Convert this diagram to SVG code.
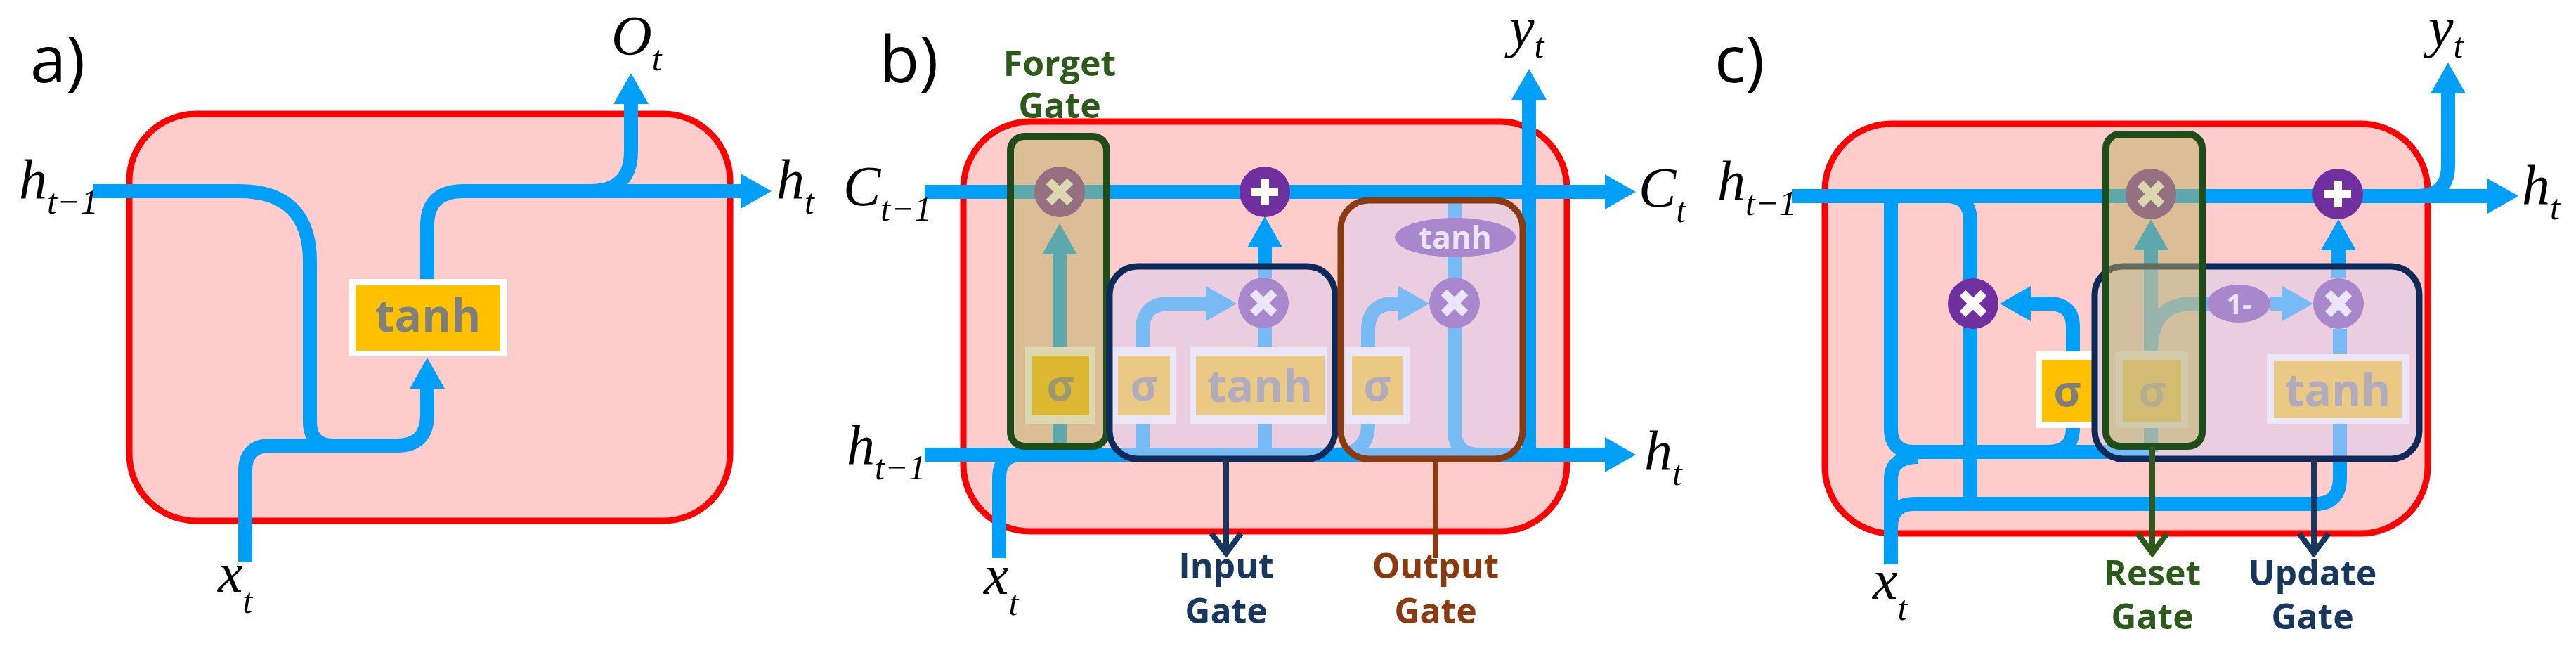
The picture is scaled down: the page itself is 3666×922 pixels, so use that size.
<svg xmlns="http://www.w3.org/2000/svg" width="3666" height="922" viewBox="0 0 3666 922">
<style>
.cell{fill:#ffcccc;stroke:#ff0000;stroke-width:9}
.ln{fill:none;stroke:#00a0f8;stroke-width:20}
.la{fill:none;stroke:#00a0f8;stroke-width:20;marker-end:url(#ah)}
.ob{fill:#ffffff}
.oi{fill:#ffc000}
.fn{font-family:"Open Sans","Liberation Sans",sans-serif;font-weight:bold;fill:#7f7f7f;text-anchor:middle}
.op{fill:#7030a0}
.x{stroke:#ffffff;stroke-width:12;stroke-linecap:butt}
.m{font-family:"Liberation Serif",serif;font-style:italic;font-size:80px;fill:#000}
.s{font-size:50px}
.pl{font-family:"Open Sans","Liberation Sans",sans-serif;font-size:92px;fill:#000}
.gl{font-family:"Open Sans","Liberation Sans",sans-serif;font-weight:bold;font-size:50px;text-anchor:middle}
.gg{fill:#b8b060;fill-opacity:.5;stroke:#1e4d1a;stroke-width:10}
.gp{fill:#d8d0f0;fill-opacity:.55;stroke-width:9}
</style>
<defs>
<marker id="ah" markerUnits="userSpaceOnUse" markerWidth="60" markerHeight="60" refX="9" refY="25" orient="auto"><path d="M0,0 L44,25 L0,50 Z" fill="#00a0f8"/></marker>
<marker id="an" markerUnits="userSpaceOnUse" markerWidth="60" markerHeight="60" refX="30" refY="25" orient="auto"><path d="M4,4 L32,25 L4,46" fill="none" stroke="#17375e" stroke-width="8"/></marker>
<marker id="ag" markerUnits="userSpaceOnUse" markerWidth="60" markerHeight="60" refX="30" refY="25" orient="auto"><path d="M4,4 L32,25 L4,46" fill="none" stroke="#2d5a1b" stroke-width="8"/></marker>
<g id="mul"><circle r="36" class="op"/><path d="M-15,-15 L15,15 M-15,15 L15,-15" class="x"/></g>
<g id="add"><circle r="36" class="op"/><path d="M0,-19 V19 M-19,0 H19" class="x"/></g>
</defs>

<g id="cellA"><rect x="184" y="162" width="855" height="579" rx="95" class="cell"/></g>
<g id="cellB"><rect x="1371" y="173" width="859" height="583" rx="95" class="cell"/></g>
<g id="cellC"><rect x="2597" y="176" width="858" height="583" rx="95" class="cell"/></g>

<g id="connectors">
<path class="la" d="M132 272 H340 Q441 272 441 372 V600 Q441 634 475 634 H565 Q608 634 608 590 V544"/>
<path class="ln" d="M349 800 V670 Q349 634 385 634 H480"/>
<path class="la" d="M608 397 V320 Q608 272 660 272 H1063"/>
<path class="la" d="M840 272 Q898 272 898 215 V139"/>
<path class="la" d="M2176 647 V133"/>
<path class="la" d="M1316 273 H2293"/>
<path class="la" d="M1316 647 H2293"/>
<path class="ln" d="M1422 794 V680 Q1422 647 1455 647 H1500"/>
<path class="ln" d="M1508 647 V603"/>
<path class="la" d="M1508 494 V353"/>
<path class="ln" d="M1626 647 V603"/>
<path class="la" d="M1626 494 V470 Q1626 432 1664 432 H1725"/>
<path class="ln" d="M1800 647 V603 M1800 494 V465"/>
<path class="la" d="M1800 395 V343"/>
<path class="ln" d="M2070 273 V612 Q2070 647 2105 647"/>
<path class="ln" d="M1900 647 Q1947 647 1947 603"/>
<path class="la" d="M1947 494 V470 Q1947 432 1985 432 H1999"/>
<path class="la" d="M2550 279 H3549"/>
<path class="la" d="M3440 279 Q3484 279 3484 235 V124"/>
<path class="ln" d="M2691 279 V610 Q2691 643 2724 643 H3061"/>
<path class="ln" d="M2691 803 V682 Q2691 650 2730 650"/>
<path class="ln" d="M2691 803 V750 Q2691 717 2725 717 H3295 Q3330 717 3330 680 V603"/>
<path class="ln" d="M2770 279 Q2804 279 2804 315 V717"/>
<path class="ln" d="M2915 643 Q2950 643 2950 609"/>
<path class="la" d="M2950 500 V465 Q2950 432 2915 432 H2881"/>
<path class="ln" d="M3061 643 V603"/>
<path class="la" d="M3061 500 V347"/>
<path class="ln" d="M3061 500 Q3061 432 3120 432 H3145"/>
<path class="la" d="M3231 432 H3257"/>
<path class="ln" d="M3330 503 V468"/>
<path class="la" d="M3328 396 V347"/>
</g>

<g id="tanhA"><rect x="496" y="397" width="226" height="110" class="ob"/><rect x="506" y="406" width="206" height="93" class="oi"/><text x="609" y="472" class="fn" font-size="64">tanh</text></g>

<g id="mulF"><use href="#mul" x="1508" y="273"/></g>
<g id="addB"><use href="#add" x="1800" y="273"/></g>
<g id="mulI"><use href="#mul" x="1798" y="431"/></g>
<g id="mulO"><use href="#mul" x="2070" y="431"/></g>
<g id="tanhO"><ellipse cx="2071" cy="338" rx="86" ry="28" class="op"/><text x="2071" y="354" class="fn" font-size="44" style="fill:#fff">tanh</text></g>
<g id="sigF"><rect x="1459" y="494" width="100" height="109" class="ob"/><rect x="1469" y="506" width="81" height="85" class="oi"/><text x="1509" y="570" class="fn" font-size="60">σ</text></g>
<g id="sigI"><rect x="1581" y="494" width="92" height="109" class="ob"/><rect x="1591" y="506" width="74" height="85" class="oi"/><text x="1628" y="570" class="fn" font-size="60">σ</text></g>
<g id="tanhI"><rect x="1693" y="494" width="196" height="109" class="ob"/><rect x="1702" y="506" width="183" height="85" class="oi"/><text x="1793" y="572" class="fn" font-size="64">tanh</text></g>
<g id="sigO"><rect x="1914" y="494" width="92" height="109" class="ob"/><rect x="1924" y="506" width="72" height="85" class="oi"/><text x="1960" y="570" class="fn" font-size="60">σ</text></g>

<g id="mulL"><use href="#mul" x="2808" y="432"/></g>
<g id="mulR"><use href="#mul" x="3061" y="276"/></g>
<g id="addC"><use href="#add" x="3327" y="276"/></g>
<g id="mulU"><use href="#mul" x="3328" y="432"/></g>
<g id="oneMinus"><ellipse cx="3186" cy="432" rx="45" ry="27" class="op"/><text x="3186" y="447" class="fn" font-size="40" style="fill:#fff">1-</text></g>
<g id="sigC1"><rect x="2897" y="500" width="88" height="109" class="ob"/><rect x="2906" y="512" width="71" height="88" class="oi"/><text x="2942" y="578" class="fn" font-size="60">σ</text></g>
<g id="sigC2"><rect x="3012" y="500" width="102" height="109" class="ob"/><rect x="3022" y="512" width="82" height="88" class="oi"/><text x="3063" y="578" class="fn" font-size="60">σ</text></g>
<g id="tanhU"><rect x="3226" y="503" width="202" height="100" class="ob"/><rect x="3236" y="513" width="182" height="82" class="oi"/><text x="3327" y="578" class="fn" font-size="64">tanh</text></g>

<g id="forgetGate"><rect x="1438" y="194" width="137" height="441" rx="20" class="gg"/></g>
<g id="inputGate"><rect x="1579" y="379" width="321" height="274" rx="40" class="gp" stroke="#0d2a5a"/></g>
<g id="outputGate"><rect x="1908" y="285" width="259" height="368" rx="40" class="gp" stroke="#8b3a10"/></g>
<g id="updateGate"><rect x="2981" y="379" width="462" height="274" rx="40" class="gp" stroke="#0d2a5a"/></g>
<g id="resetGate"><rect x="2997" y="191" width="137" height="444" rx="20" class="gg"/></g>

<g id="gateLinks">
<path d="M1745 653 V785" stroke="#17375e" stroke-width="8" fill="none" marker-end="url(#an)"/>
<path d="M2043 653 V794" stroke="#8b3a10" stroke-width="8" fill="none"/>
<path d="M3063 635 V785" stroke="#2d5a1b" stroke-width="8" fill="none" marker-end="url(#ag)"/>
<path d="M3293 653 V785" stroke="#17375e" stroke-width="8" fill="none" marker-end="url(#an)"/>
</g>

<g id="labels">
<text x="43" y="117" class="pl">a)</text>
<text x="1252" y="117" class="pl">b)</text>
<text x="2440" y="117" class="pl">c)</text>
<text x="27" y="282" class="m">h<tspan class="s" dy="22">t−1</tspan></text>
<text x="1105" y="282" class="m">h<tspan class="s" dy="22">t</tspan></text>
<text x="870" y="78" class="m">O<tspan class="s" dy="22">t</tspan></text>
<text x="310" y="842" class="m">x<tspan class="s" dy="30">t</tspan></text>
<text x="1200" y="292" class="m">C<tspan class="s" dy="22">t−1</tspan></text>
<text x="1205" y="660" class="m">h<tspan class="s" dy="22">t−1</tspan></text>
<text x="2332" y="294" class="m">C<tspan class="s" dy="22">t</tspan></text>
<text x="2340" y="668" class="m">h<tspan class="s" dy="22">t</tspan></text>
<text x="2148" y="66" class="m">y<tspan class="s" dy="16">t</tspan></text>
<text x="1400" y="845" class="m">x<tspan class="s" dy="30">t</tspan></text>
<text x="1508" y="108" class="gl" fill="#2d5a1b">Forget</text>
<text x="1508" y="168" class="gl" fill="#2d5a1b">Gate</text>
<text x="1745" y="823" class="gl" fill="#17375e">Input</text>
<text x="1745" y="887" class="gl" fill="#17375e">Gate</text>
<text x="2043" y="823" class="gl" fill="#8b3a10">Output</text>
<text x="2043" y="887" class="gl" fill="#8b3a10">Gate</text>
<text x="2444" y="284" class="m">h<tspan class="s" dy="22">t−1</tspan></text>
<text x="3589" y="290" class="m">h<tspan class="s" dy="22">t</tspan></text>
<text x="3456" y="66" class="m">y<tspan class="s" dy="16">t</tspan></text>
<text x="2665" y="852" class="m">x<tspan class="s" dy="30">t</tspan></text>
<text x="3063" y="833" class="gl" fill="#2d5a1b">Reset</text>
<text x="3063" y="895" class="gl" fill="#2d5a1b">Gate</text>
<text x="3291" y="833" class="gl" fill="#17375e">Update</text>
<text x="3291" y="895" class="gl" fill="#17375e">Gate</text>
</g>
</svg>
